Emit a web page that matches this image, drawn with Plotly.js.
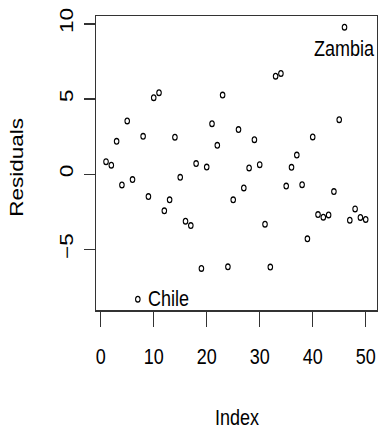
<!DOCTYPE html>
<html>
<head>
<meta charset="utf-8">
<script src="https://cdn.plot.ly/plotly-3.0.1.min.js"></script>
<style>
html,body{margin:0;padding:0;background:#fff;overflow:hidden;}
#wrap{width:378px;height:430px;overflow:hidden;}
#chart{width:378px;height:344px;transform:scaleY(1.25);transform-origin:0 0;}
</style>
</head>
<body>
<div id="wrap"><div id="chart"></div></div>
<script>
const index = [];
for (let i = 1; i <= 50; i++) index.push(i);
const residuals = [
  0.84, 0.60, 2.19, -0.71, 3.54, -0.35, -8.30, 2.52, -1.48, 5.09,
  5.42, -2.43, -1.70, 2.46, -0.20, -3.12, -3.41, 0.71, -6.26, 0.48,
  3.36, 1.92, 5.26, -6.15, -1.70, 2.97, -0.91, 0.42, 2.30, 0.64,
  -3.32, -6.17, 6.52, 6.70, -0.78, 0.46, 1.28, -0.69, -4.29, 2.48,
  -2.68, -2.85, -2.70, -1.15, 3.63, 9.77, -3.05, -2.30, -2.87, -3.00
];
const xTicks = [0, 10, 20, 30, 40, 50];
const yTicks = [-5, 0, 5, 10];
const labelNames = ["Chile", "Zambia"];
const labelIdx = [7, 46];

const font = {family: "Liberation Sans, Arial, sans-serif", size: 18, color: "#000"};

const trace = {
  x: index, y: residuals, type: "scatter", mode: "markers",
  marker: {symbol: "circle-open", size: 4.5, color: "#000", line: {width: 1.1, color: "#000"}},
  hoverinfo: "skip", showlegend: false
};

const layout = {
  width: 378, height: 344,
  margin: {l: 96, r: 1, t: 13, b: 96},
  paper_bgcolor: "#fff", plot_bgcolor: "#fff",
  font: font,
  xaxis: {
    range: [-0.89, 52.13], tickvals: xTicks, ticktext: xTicks.map(String),
    ticks: "outside", ticklen: 12, tickwidth: 1.2, tickcolor: "#333",
    showline: true, linecolor: "#333", linewidth: 1.3, mirror: true,
    showgrid: false, zeroline: false, tickfont: font, ticklabelstandoff: 8
  },
  yaxis: {
    range: [-9.02, 10.50], tickvals: yTicks, ticktext: ["\u22125", "0", "5", "10"],
    ticks: "outside", ticklen: 11, tickwidth: 1.2, tickcolor: "#333", tickangle: -90,
    showline: true, linecolor: "#333", linewidth: 1.3, mirror: true,
    showgrid: false, zeroline: false, tickfont: font, ticklabelstandoff: 4
  },
  annotations: [
    {x: labelIdx[0], y: residuals[labelIdx[0]-1], xref: "x", yref: "y", text: labelNames[0],
     showarrow: false, xanchor: "left", yanchor: "middle", xshift: 8, font: font},
    {x: labelIdx[1], y: residuals[labelIdx[1]-1], xref: "x", yref: "y", text: labelNames[1],
     showarrow: false, xanchor: "center", yanchor: "middle", yshift: -17, font: font},
    {x: 0.5, y: -86/235.2, xref: "paper", yref: "paper", text: "Index",
     showarrow: false, xanchor: "center", yanchor: "middle", font: font},
    {x: -78/281, y: (248-168/1.25)/235.2 , xref: "paper", yref: "paper", text: "Residuals",
     showarrow: false, xanchor: "center", yanchor: "middle", textangle: -90, font: font}
  ]
};

Plotly.newPlot("chart", [trace], layout, {displayModeBar: false, staticPlot: true});
</script>
</body>
</html>
